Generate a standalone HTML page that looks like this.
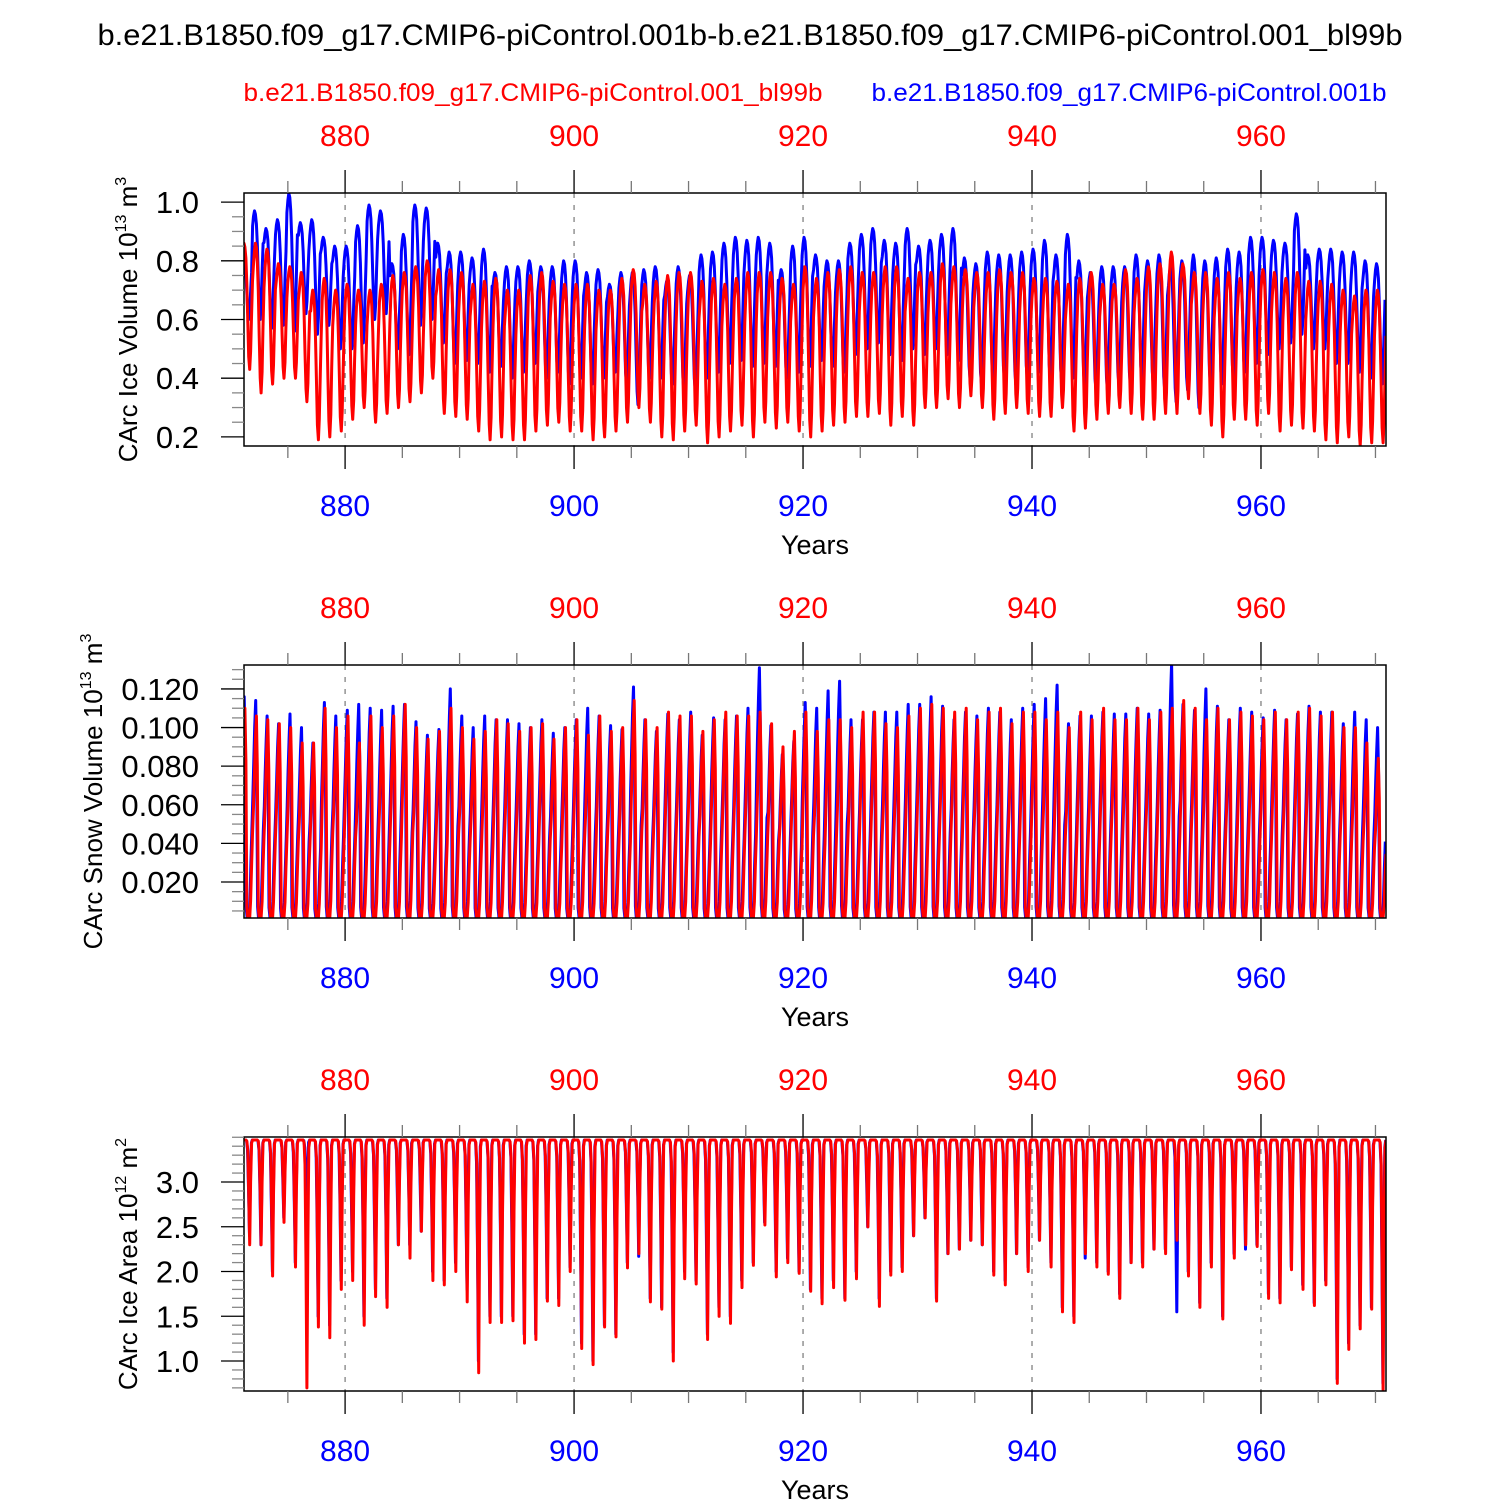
<!DOCTYPE html>
<html><head><meta charset="utf-8"><style>
html,body{margin:0;padding:0;background:#fff}
svg{display:block;font-family:"Liberation Sans",Arial,sans-serif}
</style></head><body>
<svg id="chart" width="1500" height="1500" viewBox="0 0 1500 1500" xmlns="http://www.w3.org/2000/svg">
<text x="750" y="45" text-anchor="middle" font-size="30" textLength="1305" lengthAdjust="spacingAndGlyphs" fill="#000">b.e21.B1850.f09_g17.CMIP6-piControl.001b-b.e21.B1850.f09_g17.CMIP6-piControl.001_bl99b</text>
<text x="533" y="101" text-anchor="middle" font-size="25" textLength="579" lengthAdjust="spacingAndGlyphs" fill="#ff0000">b.e21.B1850.f09_g17.CMIP6-piControl.001_bl99b</text>
<text x="1129" y="101" text-anchor="middle" font-size="25" textLength="515" lengthAdjust="spacingAndGlyphs" fill="#0000ff">b.e21.B1850.f09_g17.CMIP6-piControl.001b</text>
</svg>
<script>
const years = [];
for (let y = 871; y <= 970; y++) years.push(y);
const xTicks = [880, 900, 920, 940, 960];

const iceVolBlueMax = [.83,.97,.91,.94,1.03,.93,.94,.88,.85,.85, .92,.99,.97,.79,.89,.99,.98,.86,.83,.83, .81,.84,.76,.78,.78,.80,.78,.78,.80,.80, .76,.77,.72,.76,.76,.77,.78,.73,.78,.75, .82,.83,.86,.88,.87,.88,.86,.77,.85,.88, .82,.80,.80,.86,.89,.91,.87,.86,.91,.85, .87,.89,.91,.81,.79,.83,.82,.82,.83,.84, .87,.82,.89,.80,.76,.78,.78,.78,.82,.80, .82,.78,.80,.82,.80,.81,.84,.83,.88,.88, .87,.86,.96,.82,.84,.84,.83,.83,.80,.79];
const iceVolBlueMin = [.60,.60,.57,.58,.56,.62,.55,.58,.50,.50, .52,.60,.62,.50,.48,.58,.60,.52,.45,.46, .45,.42,.44,.40,.42,.45,.40,.42,.38,.40, .38,.40,.42,.38,.31,.40,.40,.38,.36,.36, .40,.42,.45,.46,.44,.45,.44,.40,.42,.44, .46,.44,.42,.48,.50,.52,.48,.46,.50,.48, .50,.48,.46,.40,.38,.40,.40,.38,.40,.42, .40,.39,.40,.38,.36,.36,.38,.38,.40,.38, .36,.32,.36,.30,.38,.38,.40,.42,.45,.48, .50,.52,.55,.50,.50,.45,.45,.42,.40,.38];
const iceVolRedMax = [.86,.86,.84,.79,.78,.76,.70,.74,.70,.72, .70,.70,.72,.75,.76,.78,.80,.77,.77,.76, .72,.73,.74,.70,.70,.75,.76,.73,.72,.72, .72,.70,.70,.74,.77,.72,.73,.75,.76,.76, .73,.74,.72,.74,.76,.76,.76,.74,.72,.78, .74,.76,.77,.78,.76,.76,.78,.78,.74,.76, .76,.79,.78,.77,.76,.76,.77,.76,.76,.74, .74,.73,.72,.74,.76,.72,.72,.77,.74,.78, .79,.83,.79,.76,.76,.74,.76,.74,.76,.77, .76,.74,.76,.73,.73,.72,.70,.68,.70,.70];
const iceVolRedMin = [.43,.35,.38,.40,.40,.32,.19,.20,.22,.26, .30,.25,.28,.30,.32,.35,.40,.28,.27,.26, .22,.19,.20,.19,.19,.22,.24,.25,.22,.22, .19,.20,.22,.25,.30,.25,.20,.19,.22,.24, .18,.20,.22,.24,.20,.25,.23,.25,.22,.20, .22,.24,.25,.27,.27,.28,.24,.27,.24,.30, .30,.33,.30,.34,.30,.26,.28,.30,.28,.27, .27,.30,.22,.23,.26,.28,.30,.28,.26,.26, .28,.28,.33,.28,.24,.20,.26,.26,.24,.28, .22,.24,.23,.22,.19,.18,.20,.17,.18,.18];

const snowBlueMax = [.116,.114,.106,.102,.107,.100,.092,.113,.106,.109, .112,.110,.109,.111,.112,.103,.096,.099,.120,.106, .100,.106,.104,.104,.102,.100,.104,.097,.100,.104, .110,.106,.101,.099,.121,.104,.098,.107,.104,.108, .096,.105,.104,.106,.110,.131,.101,.086,.093,.113, .110,.119,.124,.104,.104,.108,.108,.108,.112,.112, .116,.111,.104,.108,.106,.110,.108,.104,.110,.112, .115,.122,.102,.106,.106,.108,.107,.107,.110,.107, .109,.133,.112,.109,.120,.111,.104,.110,.108,.105, .109,.104,.107,.111,.108,.108,.102,.108,.104,.100];
const snowRedMax = [.110,.106,.104,.102,.100,.092,.092,.110,.100,.106, .092,.106,.100,.106,.112,.100,.094,.098,.110,.100, .094,.098,.104,.102,.098,.100,.102,.094,.100,.104, .096,.106,.098,.100,.114,.104,.100,.108,.106,.106, .098,.104,.108,.106,.106,.108,.102,.090,.098,.108, .098,.104,.104,.100,.108,.108,.102,.100,.106,.110, .112,.110,.108,.110,.104,.108,.110,.102,.108,.108, .104,.108,.100,.108,.104,.110,.104,.104,.110,.104, .108,.110,.114,.110,.104,.110,.104,.108,.106,.104, .108,.104,.108,.110,.106,.108,.100,.100,.092,.084];
const snowMin = 0.0015;

const areaMax = 3.47;
const areaRedMin = [2.3,2.3,1.95,2.55,2.05,0.7,1.38,1.26,1.8,1.9, 1.4,1.72,1.6,2.3,2.15,2.45,1.9,1.85,2.0,1.66, 0.87,1.43,1.43,1.45,1.2,1.24,1.67,1.62,2.0,1.14, 0.96,1.38,1.27,2.04,2.2,1.66,1.58,1.0,1.92,1.86, 1.24,1.5,1.42,1.82,2.07,2.52,1.94,2.1,1.98,1.78, 1.64,1.82,1.68,1.92,2.5,1.61,1.96,2.0,2.4,2.6, 1.67,2.2,2.25,2.35,2.3,1.96,1.85,2.2,2.0,2.35, 2.05,1.55,1.43,2.2,2.05,1.97,1.7,2.1,2.05,2.25, 2.2,2.35,1.95,1.6,2.05,1.47,2.15,2.3,2.28,1.7, 1.65,2.02,1.8,1.62,1.85,0.75,1.13,1.36,1.58,0.68];
const areaBlueMin = [2.4,2.3,2.0,2.6,2.1,2.6,1.5,1.4,1.9,2.0, 1.5,1.8,1.7,2.3,2.3,2.45,2.0,1.9,2.1,1.8, 1.0,1.5,1.5,1.5,1.3,1.3,1.7,1.7,2.05,1.2, 1.0,1.4,1.3,2.1,2.17,1.7,1.6,1.1,2.0,1.9, 1.3,1.6,1.5,1.9,2.1,2.55,2.0,2.15,2.0,1.8, 1.7,1.9,1.7,2.0,2.5,1.7,2.0,2.05,2.4,2.6, 1.7,2.2,2.25,2.35,2.3,2.0,1.9,2.2,2.05,2.35, 2.1,1.6,1.5,2.15,2.1,2.0,1.75,2.1,2.1,2.25, 2.25,1.55,2.0,1.65,2.1,1.5,2.2,2.25,2.3,1.75, 1.7,2.05,1.85,1.65,1.9,0.8,1.2,1.4,1.6,0.75];

const volShape = [0.86,0.95,1.0,0.97,0.88,0.68,0.38,0.1,0.0,0.14,0.44,0.7];
const snowShape = [0.55,0.72,0.88,1.0,0.75,0.05,0.0,0.0,0.0,0.08,0.25,0.4];
const areaShape = [1,1,1,1,1,0.99,0.9,0.5,0.0,0.6,0.97,1];

const NS = "http://www.w3.org/2000/svg";
const svg = document.getElementById('chart');
const X0 = 244, X1 = 1386, YR0 = 871.17, YR1 = 970.92;
function xs(t){ return X0 + (t - YR0) / (YR1 - YR0) * (X1 - X0); }
function mk(tag, attrs, parent){
  const e = document.createElementNS(NS, tag);
  for (const k in attrs) e.setAttribute(k, attrs[k]);
  (parent || svg).appendChild(e);
  return e;
}

const panels = [
  { id:'ice-volume', top:193, bottom:446, ymin:0.169, ymax:1.031, major:[0.2,0.4,0.6,0.8,1.0], fmt:v=>v.toFixed(1), minorStep:0.05, minorFrom:0.2,
    title:'CArc Ice Volume 10', sup:'13', unit:' m', usup:'3', titleX:137,
    series:[ {name:'blue', color:'#0000ff', max:iceVolBlueMax, min:iceVolBlueMin, shape:volShape, shift:-0.08},
             {name:'red', color:'#ff0000', max:iceVolRedMax, min:iceVolRedMin, shape:volShape, shift:0.0} ] },
  { id:'snow-volume', top:665, bottom:918, ymin:0.00135, ymax:0.1324, major:[0.02,0.04,0.06,0.08,0.1,0.12], fmt:v=>v.toFixed(3), minorStep:0.005, minorFrom:0.005,
    title:'CArc Snow Volume 10', sup:'13', unit:' m', usup:'3', titleX:102,
    series:[ {name:'blue', color:'#0000ff', max:snowBlueMax, min:null, shape:snowShape, shift:-0.06},
             {name:'red', color:'#ff0000', max:snowRedMax, min:null, shape:snowShape, shift:0.0} ] },
  { id:'ice-area', top:1137, bottom:1391, ymin:0.665, ymax:3.503, major:[1.0,1.5,2.0,2.5,3.0], fmt:v=>v.toFixed(1), minorStep:0.1, minorFrom:0.7,
    title:'CArc Ice Area 10', sup:'12', unit:' m', usup:'2', titleX:137,
    series:[ {name:'blue', color:'#0000ff', max:null, min:areaBlueMin, shape:areaShape, shift:-0.02},
             {name:'red', color:'#ff0000', max:null, min:areaRedMin, shape:areaShape, shift:0.0} ] }
];

panels.forEach((p, pi) => {
  const g = mk('g', {});
  
  
  const ys = v => p.bottom - (v - p.ymin) / (p.ymax - p.ymin) * (p.bottom - p.top);
  const clipId = 'clip' + pi;
  const cp = mk('clipPath', {id: clipId}, g);
  mk('rect', {x:X0, y:p.top, width:X1-X0, height:p.bottom-p.top}, cp);

  xTicks.forEach(t => {
    const l = mk('line', {x1:xs(t), x2:xs(t), y1:p.top, y2:p.bottom, stroke:'#777', 'stroke-width':1.2, 'stroke-dasharray':'5,7'}, g);
    
    
  });

  p.series.forEach(s => {
    let d = '';
    years.forEach((yr, i) => {
      for (let m = 0; m < 12; m++) {
        let v;
        if (p.id === 'ice-volume') v = s.min[i] + (s.max[i] - s.min[i]) * s.shape[m];
        else if (p.id === 'snow-volume') v = snowMin + (s.max[i] - snowMin) * s.shape[m];
        else v = s.min[i] + (areaMax - s.min[i]) * s.shape[m];
        const t = yr + m / 12 + s.shift;
        d += (d ? 'L' : 'M') + xs(t).toFixed(1) + ',' + ys(v).toFixed(1);
      }
    });
    const path = mk('path', {d:d, fill:'none', stroke:s.color, 'stroke-width':3, 'stroke-linejoin':'round', 'clip-path':'url(#' + clipId + ')'}, g);
    
    
  });

  const fr = mk('rect', {x:X0, y:p.top, width:X1-X0, height:p.bottom-p.top, fill:'none', stroke:'#000', 'stroke-width':1.5}, g);
  
  

  for (let t = 875; t <= 970; t += 5) {
    const major = t % 20 === 0;
    const len = major ? 23 : 12;
    mk('line', {x1:xs(t), x2:xs(t), y1:p.top, y2:p.top - len, stroke:major?'#000':'#777', 'stroke-width':1.3}, g);
    mk('line', {x1:xs(t), x2:xs(t), y1:p.bottom, y2:p.bottom + len, stroke:major?'#000':'#777', 'stroke-width':1.3}, g);
  }
  xTicks.forEach(t => {
    const tt = mk('text', {x:xs(t), y:p.top - 47, 'text-anchor':'middle', 'font-size':30, fill:'#ff0000'}, g);
    tt.textContent = t;
    
    
    const tb = mk('text', {x:xs(t), y:p.bottom + 70, 'text-anchor':'middle', 'font-size':30, fill:'#0000ff'}, g);
    tb.textContent = t;
    
    
  });
  const xt = mk('text', {x:815, y:p.bottom + 108, 'text-anchor':'middle', 'font-size':27, fill:'#000'}, g);
  xt.textContent = 'Years';
  
  

  for (let v = p.minorFrom; v <= p.ymax + 1e-9; v += p.minorStep) {
    if (v < p.ymin) continue;
    const isMajor = p.major.some(mv => Math.abs(mv - v) < 1e-6);
    mk('line', {x1:X0, x2:X0 - (isMajor ? 23 : 12), y1:ys(v), y2:ys(v), stroke:isMajor?'#000':'#888', 'stroke-width':1.3}, g);
  }
  p.major.forEach(v => {
    const tl = mk('text', {x:X0 - 45, y:ys(v) + 11, 'text-anchor':'end', 'font-size':31, fill:'#000'}, g);
    tl.textContent = p.fmt(v);
    
    
  });

  const cy = (p.top + p.bottom) / 2;
  const yt = mk('text', {x:0, y:0, 'text-anchor':'middle', 'font-size':26, fill:'#000', transform:'translate(' + p.titleX + ',' + cy + ') rotate(-90)'}, g);
  
  
  const t1 = mk('tspan', {}, yt); t1.textContent = p.title;
  const t2 = mk('tspan', {dy:-11, 'font-size':16}, yt); t2.textContent = p.sup;
  const t3 = mk('tspan', {dy:11}, yt); t3.textContent = p.unit;
  const t4 = mk('tspan', {dy:-11, 'font-size':16}, yt); t4.textContent = p.usup;
});
</script>
</body></html>
